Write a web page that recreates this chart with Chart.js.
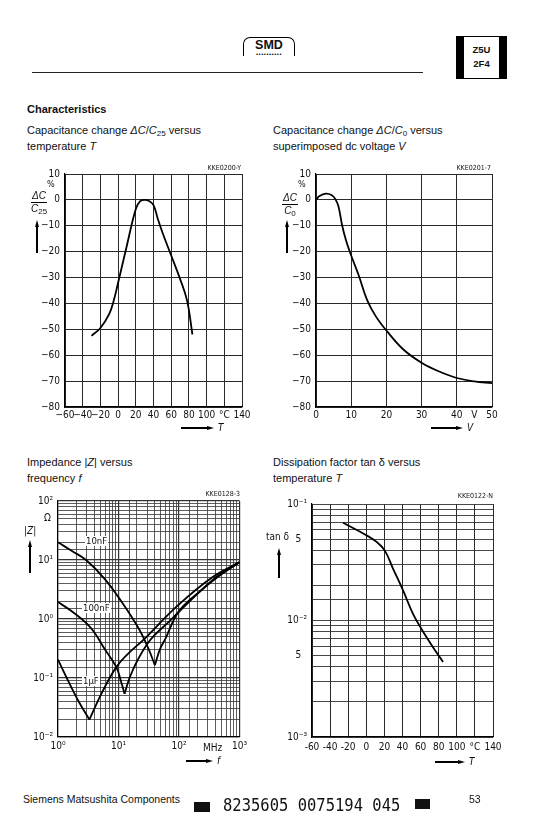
<!DOCTYPE html>
<html><head><meta charset="utf-8">
<script src="https://cdn.jsdelivr.net/npm/chart.js@4.4.1/dist/chart.umd.min.js"></script>
<style>
html,body{margin:0;padding:0;background:#fff;}
body{width:544px;height:831px;position:relative;overflow:hidden;font-family:'Liberation Sans',Arial,Helvetica,sans-serif;color:#111;}
.abs{position:absolute;white-space:nowrap;}
.cv{position:absolute;}
.h{font-size:11px;line-height:16px;}
.nar{font-family:'Liberation Sans Narrow','DejaVu Sans Condensed','Liberation Sans',sans-serif;}
sub{font-size:8px;vertical-align:-2px;line-height:0;}
.frac{font-size:10px;line-height:10px;text-align:center;font-style:italic;}
.kke{font-size:7px;}
.cl{font-size:9.5px;background:#fff;padding:0 1px;line-height:10px;}
</style></head>
<body>
<!-- header -->
<div class="abs" style="left:243px;top:37px;width:50px;height:18px;border:1.5px solid #000;border-bottom:none;border-radius:7px 7px 0 0;text-align:center;">
  <div style="font-weight:bold;font-size:12.5px;line-height:13px;margin-top:1px;">SMD</div>
  <div style="font-size:6px;line-height:5px;letter-spacing:0.5px;">••••••••••</div>
</div>
<div class="abs" style="left:32px;top:72px;width:391px;height:1px;background:#222;"></div>
<div class="abs" style="left:456px;top:36px;width:35px;border-left:8px solid #000;border-right:8px solid #000;border-top:1px solid #000;border-bottom:1px solid #000;text-align:center;font-weight:bold;font-size:9.5px;line-height:14px;padding-top:6px;box-sizing:content-box;height:35px;">Z5U<br>2F4</div>

<div class="abs" style="left:27px;top:103px;font-size:11px;font-weight:bold;">Characteristics</div>
<div class="abs h" style="left:27px;top:122px;">Capacitance change <i>ΔC</i>/<i>C</i><sub>25</sub> versus<br>temperature <i>T</i></div>
<div class="abs h" style="left:273px;top:122px;">Capacitance change <i>ΔC</i>/<i>C</i><sub>0</sub> versus<br>superimposed dc voltage <i>V</i></div>
<div class="abs h" style="left:27px;top:454px;">Impedance |<i>Z</i>| versus<br>frequency <i>f</i></div>
<div class="abs h" style="left:273px;top:454px;">Dissipation factor tan δ versus<br>temperature <i>T</i></div>

<!-- charts -->
<div class="cv" style="left:15px;top:160px;width:250px;height:275px;"><canvas id="c1"></canvas></div>
<div class="cv" style="left:266px;top:160px;width:250px;height:275px;"><canvas id="c2"></canvas></div>
<div class="cv" style="left:10px;top:485px;width:240px;height:285px;"><canvas id="c3"></canvas></div>
<div class="cv" style="left:262px;top:485px;width:270px;height:285px;"><canvas id="c4"></canvas></div>

<!-- chart annotations -->
<div class="abs nar kke" style="left:180px;top:164px;width:61px;text-align:right;">KKE0200-Y</div>
<div class="abs nar kke" style="left:430px;top:164px;width:61px;text-align:right;">KKE0201-7</div>
<div class="abs nar kke" style="left:179px;top:490px;width:61px;text-align:right;">KKE0128-3</div>
<div class="abs nar kke" style="left:432px;top:492px;width:61px;text-align:right;">KKE0122-N</div>

<div class="abs nar" style="left:47px;top:179px;font-size:9px;">%</div>
<div class="abs frac" style="left:31px;top:191px;"><div style="border-bottom:1px solid #000;padding:0 1px 1px;">ΔC</div><div style="padding-top:1px;">C<sub style="font-style:normal">25</sub></div></div>
<div class="abs nar" style="left:298px;top:179px;font-size:9px;">%</div>
<div class="abs frac" style="left:282px;top:193px;"><div style="border-bottom:1px solid #000;padding:0 1px 1px;">ΔC</div><div style="padding-top:1px;">C<sub style="font-style:normal">0</sub></div></div>

<div class="abs nar" style="left:44px;top:512px;font-size:10px;">Ω</div>
<div class="abs nar" style="left:24px;top:525px;font-size:10px;">|<i>Z</i>|</div>
<div class="abs nar" style="left:203px;top:742px;font-size:10px;">MHz</div>
<div class="abs nar" style="left:266px;top:531px;font-size:10px;">tan δ</div>

<div class="abs nar cl" style="left:85px;top:536px;">10nF</div>
<div class="abs nar cl" style="left:82px;top:603px;">100nF</div>
<div class="abs nar cl" style="left:82px;top:676px;">1µF</div>

<!-- footer -->
<div class="abs" style="left:23px;top:793px;font-size:10.5px;">Siemens Matsushita Components</div>
<div class="abs" style="left:194px;top:802px;width:16px;height:10px;background:#111;"></div>
<div class="abs" style="left:223px;top:797px;font-family:'DejaVu Sans Mono',monospace;font-size:15.5px;line-height:17px;transform:scaleY(1.1);transform-origin:left top;">8235605 0075194 045</div>
<div class="abs" style="left:415px;top:799px;width:15px;height:10px;background:#111;"></div>
<div class="abs" style="left:469px;top:793px;font-size:10.5px;">53</div>

<script>
// ---------- data ----------
const tempT = [-30, -20, -10, -5, 0, 10, 20, 25, 30, 35, 40, 45, 50, 60, 70, 78, 84];
const capChangeT = [-52.5, -49.5, -44, -39, -32, -17.5, -3.5, -0.5, 0, -0.4, -2, -7.5, -12.5, -21.5, -30.5, -39, -52];

const voltV = [0, 1, 2.8, 4.5, 5.5, 6.4, 7.4, 8.5, 9.75, 12.1, 14.5, 17, 20.2, 24.9, 30.1, 35, 40, 45, 50];
const capChangeV = [0, 1.5, 2.4, 1.8, 0.3, -2.6, -9.7, -15.5, -20.6, -29, -38.6, -45, -50.8, -57.9, -63, -66.3, -68.8, -70.1, -70.8];

const f10nFDown = [1, 1.7, 2.94, 5.9, 11.1, 20.9, 30.5, 40];
const z10nFDown = [20, 14.2, 9.9, 4.8, 2.0, 0.73, 0.335, 0.165];
const f10nFUp = [40, 48, 60, 90, 247, 400, 1000];
const z10nFUp = [0.165, 0.3, 0.47, 1.16, 3.2, 4.8, 9.2];
const f100nFDown = [1, 1.89, 3.56, 5.9, 9.2, 11.1, 12.6];
const z100nFDown = [1.94, 1.24, 0.69, 0.31, 0.153, 0.085, 0.054];
const f100nFUp = [12.6, 15.2, 30, 70, 150, 400, 1000];
const z100nFUp = [0.054, 0.1, 0.38, 0.92, 2.0, 5.0, 9.2];
const f1uFDown = [1, 1.46, 2.14, 3.3];
const z1uFDown = [0.205, 0.091, 0.042, 0.0197];
const f1uFUp = [3.3, 5.2, 9.2, 28.8, 90, 361, 1000];
const z1uFUp = [0.0197, 0.054, 0.153, 0.495, 1.6, 5.15, 9.2];

const tempD = [-25.7, 0, 11, 20.3, 29.5, 40.5, 51.6, 60.8, 73.7, 84.8];
const tanDelta = [0.069, 0.054, 0.0475, 0.040, 0.0279, 0.0182, 0.0114, 0.0085, 0.0059, 0.0044];

// ---------- tick labels ----------
const tempTicks = [-60, -40, -20, 0, 20, 40, 60, 80, 100, 120, 140];
const tempTickText = ['−60', '−40', '−20', '0', '20', '40', '60', '80', '100', '°C', '140'];
const tempTickText4 = ['-60', '-40', '-20', '0', '20', '40', '60', '80', '100', '°C', '140'];
const capTicks = [10, 0, -10, -20, -30, -40, -50, -60, -70, -80];
const capTickText = ['10', '0', '−10', '−20', '−30', '−40', '−50', '−60', '−70', '−80'];
const voltTicks = [0, 10, 20, 30, 40, 45, 50];
const voltTickText = ['0', '10', '20', '30', '40', 'V', '50'];
const freqTicks = [1, 10, 100, 1000];
const freqTickText = ['10⁰', '10¹', '10²', '10³'];
const zTicks = [0.01, 0.1, 1, 10, 100];
const zTickText = ['10⁻²', '10⁻¹', '10⁰', '10¹', '10²'];
const tanTicks = [0.001, 0.005, 0.01, 0.05, 0.1];
const tanTickText = ['10⁻³', '5\u00a0\u00a0', '10⁻²', '5\u00a0\u00a0', '10⁻¹'];

// ---------- helpers ----------
const FONT = "'Liberation Sans Narrow','DejaVu Sans Condensed','Liberation Sans',sans-serif";
Chart.defaults.font.family = FONT;
Chart.defaults.font.size = 10;
Chart.defaults.color = '#111';

function zip(xs, ys) { return xs.map((x, i) => ({ x: x, y: ys[i] })); }
function linLabel(ticks, texts) {
  return v => { const i = ticks.findIndex(t => Math.abs(t - v) < 1e-9); return i >= 0 ? texts[i] : ''; };
}
function logLabel(ticks, texts) {
  return v => { const i = ticks.findIndex(t => Math.abs(Math.log10(t) - Math.log10(v)) < 1e-6); return i >= 0 ? texts[i] : ''; };
}
function line(data, smooth) {
  const d = { data: data, borderColor: '#000', borderWidth: 1.8, pointRadius: 0, fill: false };
  if (smooth) { d.tension = 0.4; d.cubicInterpolationMode = 'default'; }
  else { d.cubicInterpolationMode = 'monotone'; }
  return d;
}
const GRID = '#2a2a2a';
function xScale(type, min, max, step, labelFn, gridColorFn, pad) {
  const s = {
    type: type, min: min, max: max,
    border: { color: '#000', width: 1.2 },
    grid: { color: gridColorFn || GRID, lineWidth: 1, drawTicks: false },
    ticks: { autoSkip: false, maxRotation: 0, minRotation: 0, padding: pad, callback: labelFn },
    afterFit: null
  };
  if (step) s.ticks.stepSize = step;
  return s;
}
function makeChart(id, datasets, xs, ys, yW, xH, padTop, padRight) {
  xs.afterFit = s => { s.height = xH; };
  ys.afterFit = s => { s.width = yW; };
  new Chart(document.getElementById(id), {
    type: 'line',
    data: { datasets: datasets },
    options: {
      responsive: true, maintainAspectRatio: false, animation: false, events: [],
      layout: { padding: { top: padTop, right: padRight, left: 0, bottom: 0 } },
      plugins: { legend: { display: false }, tooltip: { enabled: false } },
      scales: { x: xs, y: ys }
    }
  });
}

// ---------- chart 1 ----------
makeChart('c1', [line(zip(tempT, capChangeT), true)],
  xScale('linear', -60, 140, 20, linLabel(tempTicks, tempTickText), null, 2),
  xScale('linear', -80, 10, 10, linLabel(capTicks, capTickText), null, 5),
  50, 28, 14, 23);

// ---------- chart 2 ----------
makeChart('c2', [line(zip(voltV, capChangeV), true)],
  xScale('linear', 0, 50, 5, linLabel(voltTicks, voltTickText),
    ctx => (ctx.tick && Math.round(ctx.tick.value) % 10 === 0) ? GRID : 'rgba(0,0,0,0)', 2),
  xScale('linear', -80, 10, 10, linLabel(capTicks, capTickText), null, 5),
  50, 28, 14, 24);

// ---------- chart 3 ----------
const logGrid = ctx => '#333';
const lw3 = ctx => {
  if (!ctx.tick) return 0.8;
  const l = Math.log10(ctx.tick.value);
  return Math.abs(l - Math.round(l)) < 1e-6 ? 1.2 : 0.8;
};
const x3 = xScale('logarithmic', 1, 1000, null, logLabel(freqTicks, freqTickText), logGrid, 3);
x3.grid.lineWidth = lw3;
const y3 = xScale('logarithmic', 0.01, 100, null, logLabel(zTicks, zTickText), logGrid, 5);
y3.grid.lineWidth = lw3;
makeChart('c3', [
  line(zip(f10nFDown, z10nFDown), true), line(zip(f10nFUp, z10nFUp), false),
  line(zip(f100nFDown, z100nFDown), true), line(zip(f100nFUp, z100nFUp), false),
  line(zip(f1uFDown, z1uFDown), false), line(zip(f1uFUp, z1uFUp), false)
], x3, y3, 48, 33, 16, 10);

// ---------- chart 4 ----------
const y4 = xScale('logarithmic', 0.001, 0.1, null, logLabel(tanTicks, tanTickText), logGrid, 5);
y4.grid.lineWidth = 0.9;
makeChart('c4', [line(zip(tempD, tanDelta), true)],
  xScale('linear', -60, 140, 20, linLabel(tempTicks, tempTickText4), null, 4),
  y4, 50, 33, 19, 39);

// ---------- arrows ----------
function el(style) { const d = document.createElement('div'); d.className = 'abs'; Object.assign(d.style, style); document.body.appendChild(d); return d; }
function upArrow(x, y1, y2) {
  el({ left: (x - 0.6) + 'px', top: (y1 + 6) + 'px', width: '1.2px', height: (y2 - y1 - 6) + 'px', background: '#000' });
  el({ left: (x - 2.5) + 'px', top: y1 + 'px', width: '0', height: '0', borderLeft: '2.5px solid transparent', borderRight: '2.5px solid transparent', borderBottom: '7px solid #000' });
}
function rightArrow(x1, x2, y, label) {
  el({ left: x1 + 'px', top: (y - 0.6) + 'px', width: (x2 - x1 - 6) + 'px', height: '1.2px', background: '#000' });
  el({ left: (x2 - 7) + 'px', top: (y - 2.5) + 'px', width: '0', height: '0', borderTop: '2.5px solid transparent', borderBottom: '2.5px solid transparent', borderLeft: '7px solid #000' });
  const t = el({ left: (x2 + 4) + 'px', top: (y - 6) + 'px', fontSize: '10px', fontStyle: 'italic', fontFamily: FONT });
  t.textContent = label;
}
upArrow(37, 220, 253);
upArrow(287, 220, 253);
upArrow(30, 540, 573);
upArrow(279, 548, 578);
rightArrow(181, 214, 428, 'T');
rightArrow(431, 463, 428, 'V');
rightArrow(186, 213, 761, 'f');
rightArrow(435, 465, 762, 'T');
</script>
</body></html>
